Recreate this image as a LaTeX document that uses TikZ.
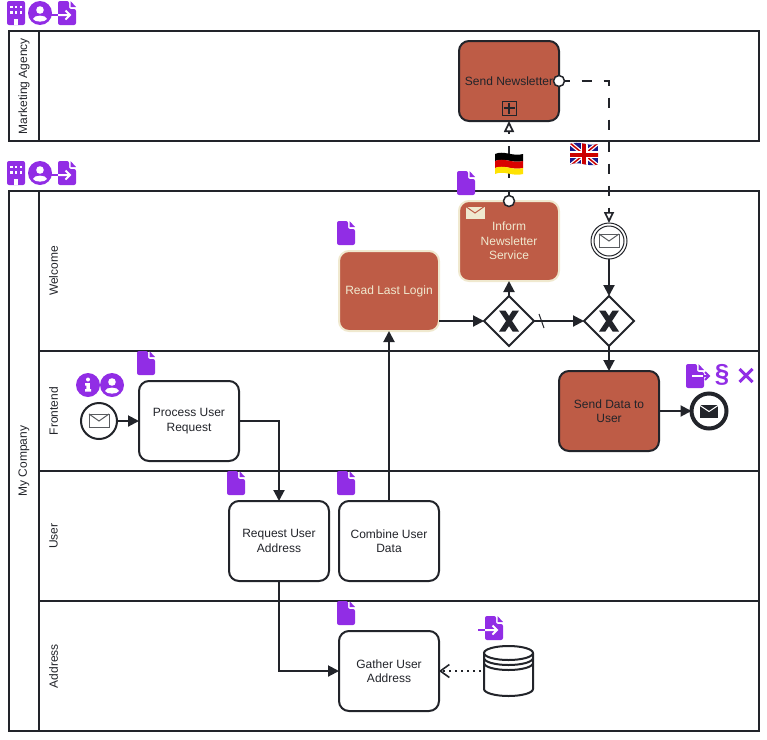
\documentclass[tikz,border=0pt]{standalone}
\usepackage{fontspec}
\setmainfont{Liberation Sans}
\usetikzlibrary{calc, arrows.meta, shapes.geometric}
\definecolor{inkdark}{HTML}{22242A}
\definecolor{taskred}{HTML}{BE5C46}
\definecolor{taskbeige}{HTML}{F0E9CF}
\definecolor{iconpurple}{HTML}{912DE5}
\tikzset{
  pool line/.style={line width=2pt, draw=inkdark},
  lane label/.style={rotate=90, text=inkdark, font=\fontsize{12}{14.5}\selectfont},
  task box/.style={draw=inkdark, line width=2pt, rounded corners=10pt, minimum width=100pt, minimum height=80pt,
    inner sep=0pt, outer sep=0pt, align=center, text=inkdark, font=\fontsize{12}{14.5}\selectfont},
  plain task/.style={task box, fill=white},
  red task/.style={task box, fill=taskred},
  beige task/.style={task box, fill=taskred, draw=taskbeige, text=taskbeige},
  gateway/.style={diamond, draw=inkdark, line width=2pt, minimum width=50pt, minimum height=50pt, inner sep=0pt, outer sep=0pt, fill=white},
  event/.style={circle, draw=inkdark, line width=2pt, minimum size=36pt, inner sep=0pt, outer sep=0pt, fill=white},
  thin event/.style={circle, draw=inkdark, line width=1pt, inner sep=0pt, outer sep=0pt, fill=white},
  boundary dot/.style={circle, draw=inkdark, line width=1.5pt, minimum size=11pt, inner sep=0pt, outer sep=0pt, fill=white},
  flow line/.style={-{Triangle[length=11pt, width=11pt]}, line width=2pt, draw=inkdark},
  message line/.style={-{Triangle[open, length=11pt, width=10pt, fill=white]}, line width=1.7pt, draw=inkdark,
    dash pattern=on 10pt off 12pt},
  data line/.style={-{Straight Barb[length=9pt, width=13pt]}, line width=1.6pt, draw=inkdark, dash pattern=on 2pt off 4pt},
  icon fill/.style={fill=iconpurple, draw=none},
  icon line/.style={draw=iconpurple, line width=2pt},
  icon cut/.style={draw=white, line width=2pt},
}
\newcommand{\drawDocIcon}[2]{
  \begin{scope}[shift={(#1,#2)}]
    \fill[icon fill, rounded corners=2pt] (0,0) -- (11,0) -- (11,8) -- (18,8) -- (18,24) -- (0,24) -- cycle;
    \fill[icon fill] (12.5,0) -- (18,6) -- (12.5,6) -- cycle;
  \end{scope}
}
\newcommand{\drawDocInIcon}[2]{
  \drawDocIcon{#1}{#2}
  \begin{scope}[shift={(#1,#2)}]
    \draw[icon line] (-7,14) -- (0,14);
    \draw[icon cut] (0,14) -- (12,14) (7.5,9.5) -- (12,14) -- (7.5,18.5);
  \end{scope}
}
\newcommand{\drawDocOutIcon}[2]{
  \drawDocIcon{#1}{#2}
  \begin{scope}[shift={(#1,#2)}]
    \draw[icon cut] (6,12) -- (17,12);
    \draw[icon line] (17,12) -- (23,12) (19,8) -- (23,12) -- (19,16);
  \end{scope}
}
\newcommand{\drawBuildingIcon}[2]{
  \begin{scope}[shift={(#1,#2)}]
    \fill[icon fill, rounded corners=2pt] (0,0) rectangle (18,24);
    \foreach \col in {3,7.8,12.6} {
      \foreach \row in {4.5,10} {
        \fill[white] (\col,\row) rectangle ++(2.5,2.8);
      }
    }
    \fill[white] (7,18) rectangle (11,24);
  \end{scope}
}
\newcommand{\drawUserIcon}[2]{
  \begin{scope}[shift={(#1,#2)}]
    \fill[icon fill] (0,0) circle (12);
    \fill[white] (0,-3) circle (3.8);
    \fill[white] (-7,6) .. controls (-6,1.5) and (6,1.5) .. (7,6) .. controls (5,9.5) and (-5,9.5) .. (-7,6) -- cycle;
  \end{scope}
}
\newcommand{\drawInfoIcon}[2]{
  \begin{scope}[shift={(#1,#2)}]
    \fill[icon fill] (0,0) circle (12);
    \fill[white] (0,-5.5) circle (2);
    \fill[white] (-3,-2) -- (1.8,-2) -- (1.8,4) -- (3,4) -- (3,6.5) -- (-3,6.5) -- (-3,4) -- (-1.6,4) -- (-1.6,0.5) -- (-3,0.5) -- cycle;
  \end{scope}
}
\newcommand{\drawEnvelope}[3]{
  \begin{scope}[shift={(#1,#2)}]
    \draw[#3] (0,0) rectangle (20,13);
    \draw[#3, fill=none] (0,0) -- (10,7) -- (20,0);
  \end{scope}
}
\newcommand{\drawGatewayMark}[1]{
  \begin{scope}[shift={(#1)}]
    \fill[inkdark] (-10,-10.5) -- (-3.6,-10.5) -- (0,-5) -- (3.6,-10.5) -- (10,-10.5) -- (3,0) -- (10,10.5) -- (3.6,10.5)
      -- (0,5) -- (-3.6,10.5) -- (-10,10.5) -- (-3,0) -- cycle;
  \end{scope}
}
\begin{document}
\begin{tikzpicture}[x=1pt, y=-1pt]
  \useasboundingbox (0,0) rectangle (767,739);
  % pools and lanes
  \draw[pool line] (9,31) rectangle (759,141);
  \draw[pool line] (39,31) -- (39,141);
  \draw[pool line] (9,191) rectangle (759,731);
  \draw[pool line] (39,191) -- (39,731);
  \draw[pool line] (39,351) -- (759,351);
  \draw[pool line] (39,471) -- (759,471);
  \draw[pool line] (39,601) -- (759,601);
  \node[lane label] (agencyLabel) at (24,86) {Marketing Agency};
  \node[lane label] (companyLabel) at (24,461) {My Company};
  \node[lane label] (welcomeLabel) at (53.5,271) {Welcome};
  \node[lane label] (frontendLabel) at (53.5,411) {Frontend};
  \node[lane label] (userLabel) at (53.5,536) {User};
  \node[lane label] (addressLabel) at (53.5,666) {Address};
  % tasks
  \node[red task] (sendNews) at (509,81) {Send Newsletter};
  \node[beige task] (informNews) at (509,241) {Inform\\Newsletter\\Service};
  \node[beige task] (readLogin) at (389,291) {Read Last Login};
  \node[plain task] (processReq) at (189,421) {Process User\\Request};
  \node[plain task] (requestAddr) at (279,541) {Request User\\Address};
  \node[plain task] (combineData) at (389,541) {Combine User\\Data};
  \node[plain task] (gatherAddr) at (389,671) {Gather User\\Address};
  \node[red task] (sendData) at (609,411) {Send Data to\\User};
  \node[gateway] (gwLeft) at (509,321) {};
  \node[gateway] (gwRight) at (609,321) {};
  \drawGatewayMark{gwLeft}
  \drawGatewayMark{gwRight}
  \node[event] (startEvent) at (99,421) {};
  \node[event, line width=4pt, minimum size=35pt] (endEvent) at (709,411) {};
  \node[thin event, minimum size=36pt] (msgEvent) at (609,241) {};
  \node[thin event, minimum size=30pt] (msgEventInner) at (609,241) {};
  \node[boundary dot] (sendDot) at (559,81) {};
  \node[boundary dot] (informDot) at (509,201) {};
  \node[minimum width=49pt, minimum height=50pt, inner sep=0pt, outer sep=3pt] (dataStore) at (508.5,671) {};
  % connectors
  \draw[flow line] (readLogin.east |- gwLeft.west) -- (gwLeft.west);
  \draw[flow line] (gwLeft.north) -- (informNews.south);
  \draw[flow line] (gwLeft.east) -- (gwRight.west);
  \draw[flow line] (msgEvent.south) -- (gwRight.north);
  \draw[flow line] (gwRight.south) -- (sendData.north);
  \draw[flow line] (sendData.east) -- (endEvent.west);
  \draw[flow line] (startEvent.east) -- (processReq.west);
  \draw[flow line] (processReq.east) -| (requestAddr.north);
  \draw[flow line] (combineData.north) -- (readLogin.south);
  \draw[flow line] (requestAddr.south) |- (gatherAddr.west);
  \draw[data line] (dataStore.west) -- (gatherAddr.east);
  \draw[message line, dash phase=4pt] (informDot.north) -- (sendNews.south);
  \draw[message line, dash phase=5pt] (sendDot.east) -| (msgEvent.north);
  \draw[line width=1pt, draw=inkdark] ($(gwLeft.east)+(5,-7)$) -- ($(gwLeft.east)+(10,7)$);
  % markers
  \draw[line width=1pt, draw=inkdark] (502,101) rectangle (516,115);
  \draw[line width=2pt, draw=inkdark] (503.5,108) -- (514.5,108) (509,102.5) -- (509,113.5);
  \drawEnvelope{465}{206}{line width=1pt, draw=taskred, fill=taskbeige}
  \drawEnvelope{599}{234}{line width=1pt, draw=inkdark!75}
  \drawEnvelope{89}{414}{line width=1pt, draw=inkdark!75}
  \begin{scope}[shift={(700,405)}]
    \fill[inkdark] (0,0) rectangle (18,12.5);
    \draw[white, line width=1pt] (0,0.5) -- (9,6.5) -- (18,0.5);
  \end{scope}
  % data store
  \draw[line width=2pt, draw=inkdark, fill=white] (484,653) -- (484,689) arc[start angle=180, end angle=360, x radius=24.5, y radius=-7] -- (533,653);
  \draw[line width=2pt, draw=inkdark, fill=white] (508.5,653) ellipse[x radius=24.5, y radius=7];
  \draw[line width=2pt, draw=inkdark] (484,658) arc[start angle=180, end angle=360, x radius=24.5, y radius=-7];
  \draw[line width=2pt, draw=inkdark] (484,663) arc[start angle=180, end angle=360, x radius=24.5, y radius=-7];
  % flags
  \fill[black] (495,154) .. controls (504,150) and (513,157) .. (523,154) -- (523,161) .. controls (513,164) and (504,157) .. (495,161) -- cycle;
  \fill[red!85!black] (495,161) .. controls (504,157) and (513,164) .. (523,161) -- (523,168) .. controls (513,171) and (504,164) .. (495,168) -- cycle;
  \fill[yellow!85!orange] (495,168) .. controls (504,164) and (513,171) .. (523,168) -- (523,174) .. controls (513,177) and (504,170) .. (495,174) -- cycle;
  \begin{scope}
    \clip (570,144) .. controls (579,140) and (588,147) .. (598,144) -- (598,164.5) .. controls (588,167.5) and (579,160.5) .. (570,164.5) -- cycle;
    \fill[blue!50!black!90!white] (570,140) rectangle (598,168);
    \draw[white, line width=4pt] (570,143) -- (598,166) (570,166) -- (598,143);
    \draw[red!80!black, line width=1.5pt] (570,143) -- (598,166) (570,166) -- (598,143);
    \draw[white, line width=7pt] (584,140) -- (584,168) (568,154.5) -- (600,154.5);
    \draw[red!80!black, line width=4pt] (584,140) -- (584,168) (568,154.5) -- (600,154.5);
  \end{scope}
  % icons
  \drawBuildingIcon{7}{1}
  \drawUserIcon{40}{13}
  \drawDocInIcon{58}{1}
  \drawBuildingIcon{7}{161}
  \drawUserIcon{40}{173}
  \drawDocInIcon{58}{161}
  \drawDocIcon{457}{171}
  \drawDocIcon{337}{221}
  \drawDocIcon{137}{351}
  \drawDocIcon{227}{471}
  \drawDocIcon{337}{471}
  \drawDocIcon{337}{601}
  \drawDocInIcon{485}{616}
  \drawInfoIcon{88}{385}
  \drawUserIcon{112}{385}
  \drawDocOutIcon{686}{364}
  \node[inner sep=0pt, text=iconpurple, font=\fontsize{26}{26}\selectfont\bfseries] (paragraphMark) at (722,375) {§};
  \draw[draw=iconpurple, line width=3pt] (739.5,369) -- (752.5,382) (752.5,369) -- (739.5,382);
\end{tikzpicture}
\end{document}
